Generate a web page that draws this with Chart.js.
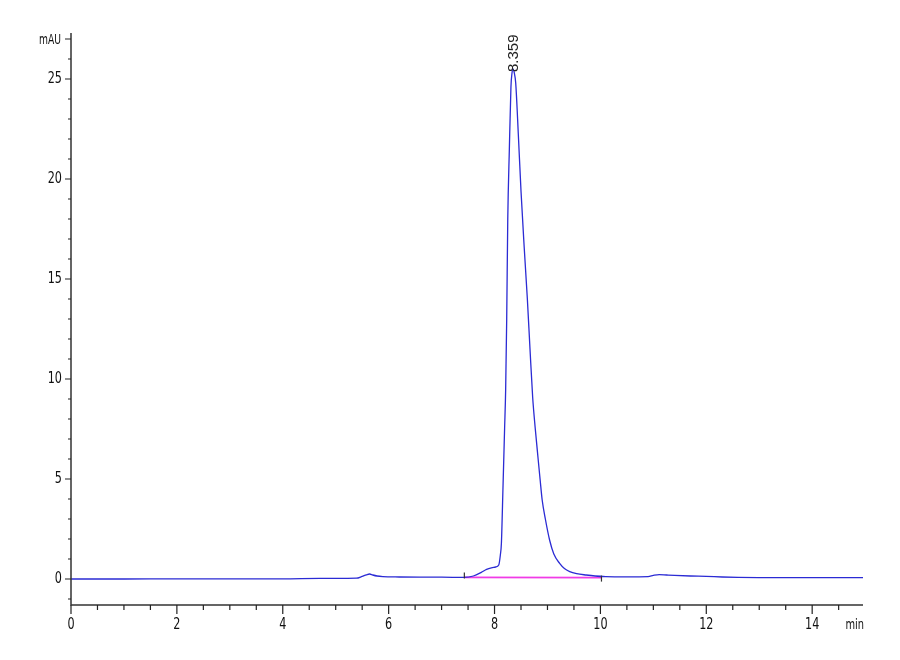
<!DOCTYPE html>
<html>
<head>
<meta charset="utf-8">
<title>Chromatogram</title>
<script src="https://cdn.jsdelivr.net/npm/chart.js@4/dist/chart.umd.min.js"></script>
<style>
    html, body { margin: 0; padding: 0; background: #fff; }
    #wrap { width: 900px; height: 660px; }
</style>
</head>
<body>
<div id="wrap"><canvas id="chrom" width="900" height="660"></canvas></div>
<script>
// ========================================
// Chromatogram data
// ========================================

// retention time, min
const traceTime = [
    0, 1, 2, 3, 4, 4.7, 5.0, 5.39, 5.5, 5.58, 5.64, 5.7, 5.78, 5.89, 6.2, 6.6, 7.0, 7.43,
    7.6, 7.75, 7.85, 7.94, 8.02, 8.08, 8.11, 8.13, 8.16, 8.19, 8.21, 8.23, 8.25, 8.28,
    8.31, 8.33, 8.35, 8.37, 8.40, 8.45, 8.50, 8.56, 8.62, 8.67, 8.72, 8.77, 8.82, 8.86, 8.90,
    8.96, 9.04, 9.12, 9.23, 9.32, 9.42, 9.55, 9.73, 9.9, 10.1, 10.5, 10.9, 11.0, 11.11,
    11.25, 11.4, 11.7, 12.0, 12.3, 12.6, 13.0, 13.5, 14.0, 14.5, 14.96
];
// absorbance, mAU
const traceAbs = [
    0.0, 0.0, 0.01, 0.01, 0.01, 0.03, 0.03, 0.04, 0.13, 0.21, 0.25, 0.2, 0.15, 0.12, 0.1, 0.09, 0.09, 0.08,
    0.15, 0.33, 0.48, 0.56, 0.6, 0.7, 1.2, 1.8, 4.6, 7.5, 9.45, 13.0, 18.0, 21.5,
    24.6, 25.3, 25.5, 25.35, 24.8, 22.2, 19.4, 16.6, 14.0, 11.5, 9.1, 7.5, 6.1, 5.0, 3.95,
    3.0, 1.95, 1.25, 0.78, 0.52, 0.37, 0.27, 0.2, 0.15, 0.12, 0.11, 0.12, 0.18, 0.22,
    0.2, 0.18, 0.15, 0.13, 0.1, 0.08, 0.07, 0.07, 0.07, 0.07, 0.07
];

// integration baseline under the main peak
const baselineTime = [7.43, 10.02];
const baselineAbs = [0.08, 0.07];

// integration event marks
const eventTime = [7.43, 10.02];
const eventAbs = [0.17, 0.02];

// peak annotation
const peakTime = 8.359;
const peakAbs = 25.5;
const peakLabel = '8.359';

// axes
const xMin = 0, xMax = 14.96;
const yMin = -1.3, yMax = 27.3;
const xLabelStep = 2;   // labelled x ticks
const yLabelStep = 5;   // labelled y ticks
const xUnit = 'min';
const yUnit = 'mAU';
const yUnitAt = 27;

const AXIS_FONT = "'DejaVu Sans', sans-serif";
const NARROW = 0.68;    // horizontal squeeze for the narrow axis lettering

const isStep = (v, step) => Math.abs(v / step - Math.round(v / step)) < 1e-6;

// draw text squeezed horizontally, anchored at (x, y)
function narrowText(ctx, text, x, y, align, size) {
    ctx.save();
    ctx.font = size + 'px ' + AXIS_FONT;
    ctx.textBaseline = 'middle';
    ctx.textAlign = align;
    ctx.translate(x, y);
    ctx.scale(NARROW, 1);
    ctx.fillText(text, 0, 0);
    ctx.restore();
}

// ========================================
// Axes, ticks, labels and peak label
// ========================================
const chromPlugin = {
    id: 'chromAxes',
    afterDraw: function(chart) {
        const ctx = chart.ctx;
        const xs = chart.scales.x;
        const ys = chart.scales.y;
        const area = chart.chartArea;

        ctx.save();

        // axis lines
        ctx.strokeStyle = '#333';
        ctx.lineWidth = 1.5;
        ctx.beginPath();
        ctx.moveTo(area.left, area.top);
        ctx.lineTo(area.left, area.bottom);
        ctx.lineTo(area.right, area.bottom);
        ctx.stroke();

        // tick marks (labelled ones longer)
        ctx.lineWidth = 1.2;
        ctx.strokeStyle = '#222';
        ctx.beginPath();
        xs.ticks.forEach(t => {
            const px = xs.getPixelForValue(t.value);
            const len = isStep(t.value, xLabelStep) ? 9 : 5;
            ctx.moveTo(px, area.bottom);
            ctx.lineTo(px, area.bottom + len);
        });
        ys.ticks.forEach(t => {
            const py = ys.getPixelForValue(t.value);
            const len = (isStep(t.value, yLabelStep) || t.value === yUnitAt) ? 6 : 3;
            ctx.moveTo(area.left, py);
            ctx.lineTo(area.left - len, py);
        });
        ctx.stroke();

        // tick labels
        ctx.fillStyle = '#111';
        xs.ticks.forEach(t => {
            if (!isStep(t.value, xLabelStep)) return;
            narrowText(ctx, String(Math.round(t.value)), xs.getPixelForValue(t.value), area.bottom + 20, 'center', 16.5);
        });
        ys.ticks.forEach(t => {
            const py = ys.getPixelForValue(t.value);
            if (t.value === yUnitAt) {
                narrowText(ctx, yUnit, area.left - 10, py + 1, 'right', 13.5);
            } else if (isStep(t.value, yLabelStep)) {
                narrowText(ctx, String(Math.round(t.value)), area.left - 9, py, 'right', 16.5);
            }
        });

        // x unit at the axis end
        narrowText(ctx, xUnit, area.right + 1, area.bottom + 20, 'right', 14.5);

        // peak retention time, rotated
        const px = xs.getPixelForValue(peakTime);
        const py = ys.getPixelForValue(peakAbs);
        ctx.translate(px, py + 3);
        ctx.rotate(-Math.PI / 2);
        ctx.font = "15px 'Liberation Sans', Arial, sans-serif";
        ctx.fillStyle = '#222';
        ctx.textAlign = 'left';
        ctx.textBaseline = 'middle';
        ctx.fillText(peakLabel, 0, 0);

        ctx.restore();
    }
};

const toPoints = (xs, ys) => xs.map((x, i) => ({ x: x, y: ys[i] }));

const chart = new Chart(document.getElementById('chrom').getContext('2d'), {
    type: 'line',
    data: {
        datasets: [
            {
                label: 'baseline',
                data: toPoints(baselineTime, baselineAbs),
                borderColor: '#f03ce6',
                borderWidth: 1.6,
                pointRadius: 0,
                order: 2
            },
            {
                label: 'signal',
                data: toPoints(traceTime, traceAbs),
                borderColor: '#2b2bd4',
                borderWidth: 1.3,
                pointRadius: 0,
                cubicInterpolationMode: 'monotone',
                order: 1
            },
            {
                label: 'events',
                data: toPoints(eventTime, eventAbs),
                showLine: false,
                pointStyle: 'line',
                rotation: 90,
                pointRadius: 3,
                borderColor: '#333',
                borderWidth: 1.2,
                order: 0
            }
        ]
    },
    options: {
        responsive: false,
        animation: false,
        layout: {
            padding: { left: 0, right: 37, top: 33, bottom: 0 }
        },
        plugins: {
            legend: { display: false },
            tooltip: { enabled: false }
        },
        scales: {
            x: {
                type: 'linear',
                min: xMin,
                max: xMax,
                grid: { display: false, drawTicks: false },
                border: { display: false },
                ticks: {
                    display: false,
                    stepSize: 0.5,
                    includeBounds: false,
                    autoSkip: false
                },
                afterFit: function(scale) { scale.height = 55; }
            },
            y: {
                type: 'linear',
                min: yMin,
                max: yMax,
                grid: { display: false, drawTicks: false },
                border: { display: false },
                ticks: {
                    display: false,
                    stepSize: 1,
                    includeBounds: false,
                    autoSkip: false
                },
                afterFit: function(scale) { scale.width = 71; }
            }
        }
    },
    plugins: [chromPlugin]
});

window.chromChart = chart;
</script>
</body>
</html>
